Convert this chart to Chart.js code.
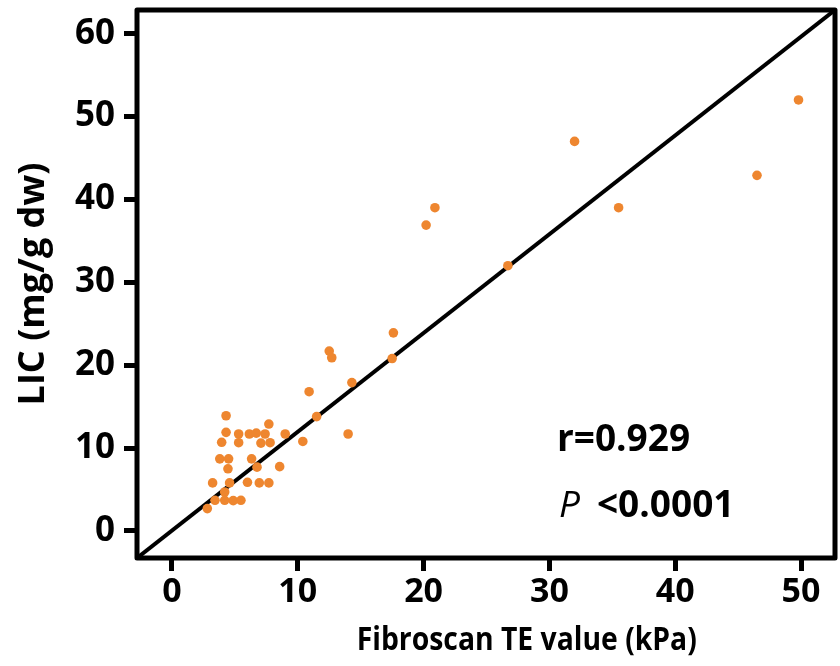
<!DOCTYPE html>
<html>
<head>
<meta charset="utf-8">
<script src="https://cdn.jsdelivr.net/npm/chart.js@4/dist/chart.umd.min.js"></script>
<style>
  html, body { margin: 0; padding: 0; background: #fff; }
  #wrap { width: 840px; height: 666px; }
</style>
</head>
<body>
<div id="wrap"><canvas id="myChart" width="840" height="666"></canvas></div>
<script>
// Fibroscan TE (kPa) vs LIC (mg/g dw)
const teValues = [49.8, 32.0, 46.5, 20.9, 20.2, 35.5, 26.7, 17.6, 12.5, 12.7,
  17.5, 14.3, 10.9, 11.5, 9.0, 10.4, 14.0, 4.3, 4.3, 3.95,
  5.3, 5.3, 6.15, 6.7, 7.4, 7.7, 7.07, 7.8, 3.8, 4.5,
  4.45, 6.33, 6.76, 8.56, 3.23, 4.58, 6.0, 6.94, 7.7, 4.19,
  4.19, 3.42, 4.87, 5.48, 2.81];
const licValues = [52.0, 47.0, 42.9, 39.0, 36.9, 39.0, 32.0, 23.9, 21.7, 20.9,
  20.8, 17.9, 16.8, 13.8, 11.7, 10.8, 11.7, 13.9, 11.9, 10.7,
  11.7, 10.65, 11.7, 11.8, 11.7, 12.9, 10.6, 10.65, 8.7, 8.7,
  7.5, 8.7, 7.7, 7.76, 5.8, 5.8, 5.87, 5.8, 5.8, 4.7,
  3.7, 3.7, 3.66, 3.7, 2.7];

// fitted line end points (corner to corner of the frame)
const fitX = [-2.78, 52.7];
const fitY = [-3.26, 62.85];

const xTicks = [0, 10, 20, 30, 40, 50];
const yTicks = [0, 10, 20, 30, 40, 50, 60];

const xTitle = "Fibroscan TE value (kPa)";
const yTitle = "LIC (mg/g dw)";
const stats = { r: "r=0.929", p: "<0.0001" };

const FONT = "'Open Sans', 'DejaVu Sans', sans-serif";

const points = teValues.map((v, i) => ({ x: v, y: licValues[i] }));
const fitLine = fitX.map((v, i) => ({ x: v, y: fitY[i] }));

// frame round the plot, x title and the r / P text
const framePlugin = {
  id: "frame",
  afterDraw(chart) {
    const { ctx, chartArea: a, scales } = chart;
    ctx.save();
    ctx.strokeStyle = "#000";
    ctx.lineWidth = 5;
    ctx.lineJoin = "round";
    ctx.strokeRect(a.left, a.top, a.right - a.left, a.bottom - a.top);

    ctx.fillStyle = "#000";
    ctx.textBaseline = "middle";
    ctx.textAlign = "center";
    // x title: a narrow bold face in the original, so squeeze it a bit
    ctx.font = "bold 33px " + FONT;
    const w = ctx.measureText(xTitle).width;
    const k = Math.min(1, 340 / w);
    ctx.save();
    ctx.translate(scales.x.getPixelForValue(28.2), 641);
    ctx.scale(k, 1);
    ctx.fillText(xTitle, 0, 0);
    ctx.restore();

    ctx.textAlign = "left";
    const tx = scales.x.getPixelForValue(30.6);
    ctx.font = "bold 37px " + FONT;
    ctx.fillText(stats.r, tx, scales.y.getPixelForValue(10.9));
    const py = scales.y.getPixelForValue(3.0);
    ctx.font = "italic 37px " + FONT;
    ctx.fillText("P", tx + 2, py);
    ctx.font = "bold 37px " + FONT;
    ctx.fillText(stats.p, tx + 40, py);
    ctx.restore();
  },
};

chart = new Chart("myChart", {
  data: {
    datasets: [
      {
        type: "line",
        data: fitLine,
        borderColor: "#000",
        borderWidth: 4,
        pointRadius: 0,
        fill: false,
        order: 2,
      },
      {
        type: "scatter",
        data: points,
        backgroundColor: "#ee862f",
        borderWidth: 0,
        pointRadius: 4.8,
        order: 1,
      },
    ],
  },
  options: {
    responsive: false,
    animation: false,
    layout: { padding: { top: 10, right: 5, left: 0, bottom: 0 } },
    plugins: { legend: { display: false }, tooltip: { enabled: false } },
    scales: {
      x: {
        type: "linear",
        min: fitX[0],
        max: fitX[1],
        afterBuildTicks: (s) => { s.ticks = xTicks.map((v) => ({ value: v })); },
        afterFit: (s) => {
          s.height = 108;
          s.paddingLeft = 0;
          s.paddingRight = 0;
        },
        border: { display: false },
        grid: { drawOnChartArea: false, drawTicks: true, tickLength: 13, tickWidth: 5, tickColor: "#000" },
        ticks: { color: "#000", padding: 1, font: { family: FONT, size: 34, weight: "bold" } },
        title: { display: false },
      },
      y: {
        type: "linear",
        min: fitY[0],
        max: fitY[1],
        afterBuildTicks: (s) => { s.ticks = yTicks.map((v) => ({ value: v })); },
        afterFit: (s) => {
          s.width = 137;
          s.paddingTop = 0;
          s.paddingBottom = 0;
        },
        border: { display: false },
        grid: { drawOnChartArea: false, drawTicks: true, tickLength: 13, tickWidth: 5, tickColor: "#000" },
        ticks: { color: "#000", padding: 9, font: { family: FONT, size: 35, weight: "bold" } },
        title: {
          display: true,
          text: yTitle,
          color: "#000",
          font: { family: FONT, size: 36, weight: "bold" },
          padding: { top: 12, bottom: 0 },
        },
      },
    },
  },
  plugins: [framePlugin],
});
</script>
</body>
</html>
